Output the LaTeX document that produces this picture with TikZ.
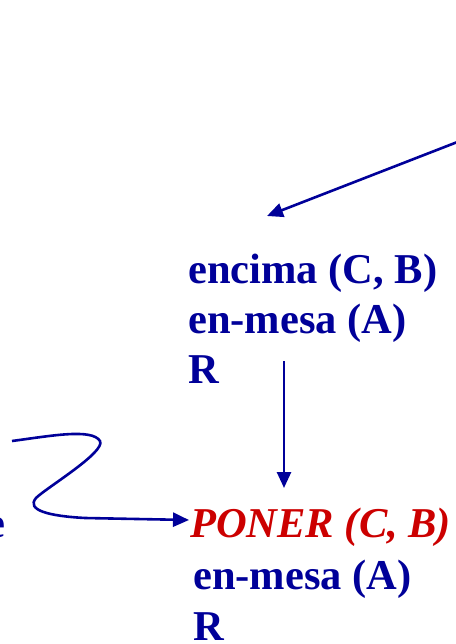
\documentclass[tikz,border=0pt]{standalone}
\usepackage{fontspec}
\setmainfont{Liberation Serif}
\usetikzlibrary{arrows.meta,calc}
\definecolor{darkblue}{RGB}{0,0,153}
\definecolor{darkred}{RGB}{204,0,0}
\tikzset{
  stateline/.style={anchor=base west, inner sep=0pt, text=darkblue, font=\fontsize{42.5}{50}\selectfont\bfseries},
  opline/.style={stateline, text=darkred, font=\fontsize{42.5}{50}\selectfont\bfseries\itshape},
  flow/.style={darkblue, line width=2.6pt, -{Triangle[length=16pt,width=14pt]}}
}
\begin{document}
\begin{tikzpicture}[x=1pt, y=-1pt]
    \useasboundingbox (0,0) rectangle (455,644);
    % First state
    \node[stateline] (enc) at (188,283) {encima (C, B)};
    \node[stateline] (mesa) at (188,333) {en-mesa (A)};
    \node[stateline] (rest) at (188,383) {R};
    
    % Second state, after the operator
    \node[opline] (poner) at (190,537) {PONER (C, B)};
    \node[stateline] (mesab) at (193,589) {en-mesa (A)};
    \node[stateline] (restb) at (193,640) {R};
    
    % Cut-off word on the left
    \node[stateline, anchor=base east] (word) at (6,537) {e};
    
    % Arrows
    \coordinate (from) at (460,141);
    \draw[flow] (from) -- ($(enc.base west)+(79,-67)$);
    \draw[flow] ($(mesa.base west)+(96,28)$) -- ($(poner.base west)+(94,-49)$);
    \coordinate (loop) at (12,441);
    \draw[flow] (loop) .. controls (50,436) and (92,428) .. (100,441)
        .. controls (106,452) and (46,488) .. (36,498)
        .. controls (26,510) and (48,516) .. (85,518)
        -- ($(poner.base west)+(-1,-17)$);
\end{tikzpicture}
\end{document}
